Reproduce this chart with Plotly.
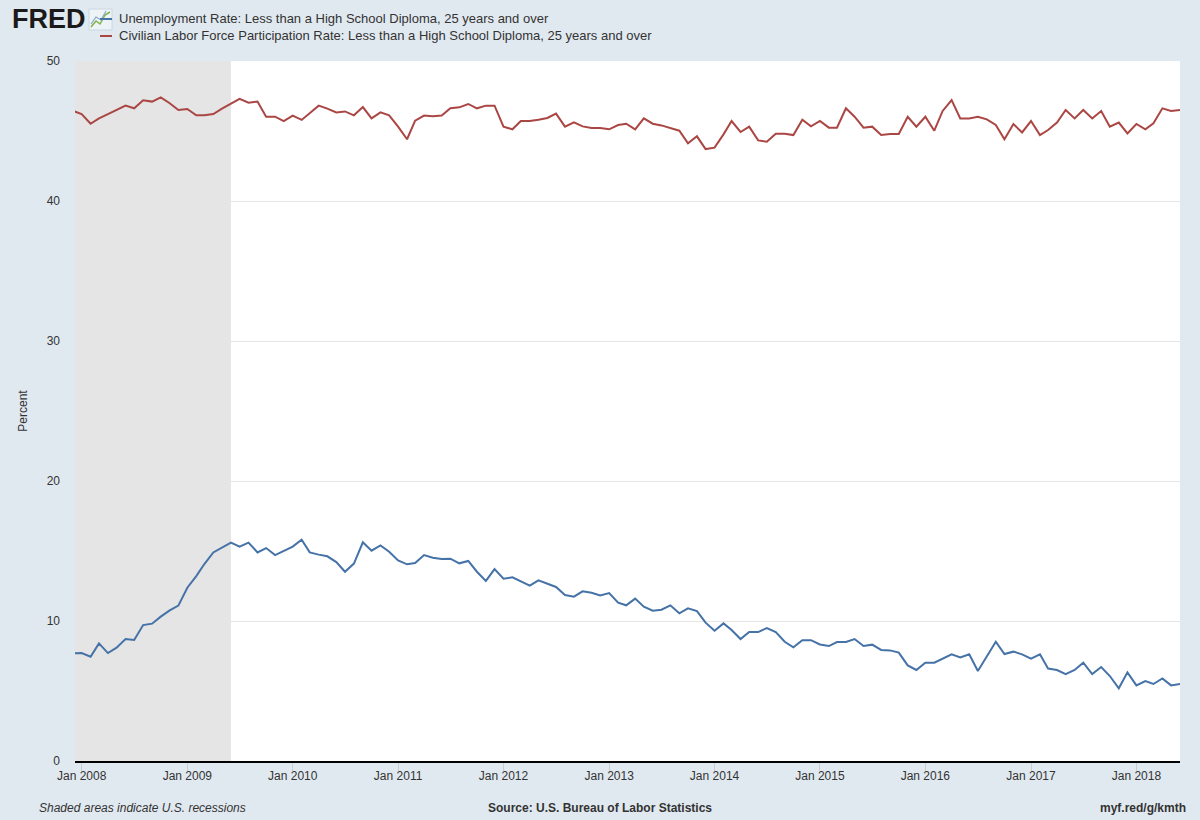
import pandas as pd
import plotly.graph_objects as go

# ---- data (monthly, Dec 2007 .. Jun 2018) ----
start_month = "2007-12-01"
unemployment = [
    7.7,
    7.71, 7.45, 8.40, 7.71, 8.10, 8.71, 8.64, 9.71, 9.81, 10.31, 10.76, 11.10,
    12.38, 13.21, 14.07, 14.90, 15.24, 15.60, 15.31, 15.60, 14.90, 15.21, 14.71, 14.98,
    15.31, 15.81, 14.90, 14.74, 14.62, 14.21, 13.52, 14.10, 15.62, 15.02, 15.40, 14.95,
    14.33, 14.05, 14.14, 14.71, 14.52, 14.43, 14.45, 14.12, 14.29, 13.52, 12.86, 13.71,
    13.02, 13.12, 12.81, 12.52, 12.90, 12.64, 12.43, 11.86, 11.74, 12.12, 12.02, 11.83,
    12.00, 11.31, 11.12, 11.60, 11.02, 10.74, 10.81, 11.12, 10.55, 10.90, 10.71, 9.88,
    9.31, 9.83, 9.36, 8.71, 9.21, 9.21, 9.50, 9.21, 8.52, 8.12, 8.62, 8.63,
    8.32, 8.21, 8.50, 8.50, 8.71, 8.21, 8.31, 7.93, 7.90, 7.74, 6.83, 6.50,
    7.02, 7.02, 7.33, 7.62, 7.40, 7.62, 6.43, 7.45, 8.52, 7.64, 7.81, 7.62,
    7.31, 7.62, 6.60, 6.50, 6.21, 6.50, 7.02, 6.21, 6.71, 6.07, 5.19, 6.33,
    5.40, 5.71, 5.50, 5.90, 5.40, 5.50,
]
participation = [
    46.45,
    46.21, 45.52, 45.90, 46.21, 46.50, 46.81, 46.62, 47.19, 47.10, 47.40, 46.98, 46.50,
    46.57, 46.12, 46.12, 46.21, 46.60, 46.98, 47.29, 47.02, 47.10, 46.02, 46.02, 45.71,
    46.10, 45.79, 46.26, 46.81, 46.60, 46.33, 46.40, 46.12, 46.71, 45.90, 46.33, 46.12,
    45.31, 44.41, 45.74, 46.10, 46.05, 46.10, 46.62, 46.69, 46.93, 46.62, 46.81, 46.81,
    45.31, 45.12, 45.71, 45.71, 45.81, 45.93, 46.24, 45.31, 45.62, 45.33, 45.21, 45.21,
    45.12, 45.43, 45.52, 45.12, 45.90, 45.52, 45.40, 45.21, 45.02, 44.12, 44.62, 43.71,
    43.81, 44.76, 45.71, 44.93, 45.31, 44.33, 44.24, 44.81, 44.81, 44.71, 45.81, 45.33,
    45.72, 45.24, 45.24, 46.62, 46.02, 45.24, 45.31, 44.71, 44.79, 44.79, 46.02, 45.31,
    46.02, 45.02, 46.43, 47.21, 45.90, 45.90, 46.02, 45.83, 45.43, 44.41, 45.50, 44.90,
    45.71, 44.71, 45.07, 45.60, 46.50, 45.90, 46.50, 45.90, 46.43, 45.31, 45.60, 44.83,
    45.50, 45.12, 45.55, 46.62, 46.43, 46.50,
]
dates = pd.date_range(start_month, periods=len(unemployment), freq="MS")

recession_start = "2007-12-01"
recession_end = "2009-06-01"

tick_years = list(range(2008, 2019))
tick_dates = [f"{y}-01-01" for y in tick_years]
tick_labels = [f"Jan {y}" for y in tick_years]

name_ur = "Unemployment Rate: Less than a High School Diploma, 25 years and over"
name_lf = "Civilian Labor Force Participation Rate: Less than a High School Diploma, 25 years and over"

BLUE = "#4572a7"
RED = "#aa4643"
FONT = "Liberation Sans Narrow, Arial Narrow, Liberation Sans, Arial, sans-serif"

fig = go.Figure()
fig.add_trace(go.Scatter(x=dates, y=unemployment, mode="lines", name=name_ur,
                         line=dict(color=BLUE, width=2), showlegend=False))
fig.add_trace(go.Scatter(x=dates, y=participation, mode="lines", name=name_lf,
                         line=dict(color=RED, width=2), showlegend=False))

fig.add_vrect(x0=recession_start, x1=recession_end, fillcolor="#e5e5e5",
              line_width=0, layer="below")

W, H = 1200, 820
L, R, T, B = 75, 20, 61, 59
pw, ph = W - L - R, H - T - B


def px(x):
    return (x - L) / pw


def py(y):
    return (H - B - y) / ph


fig.update_layout(
    width=W, height=H,
    margin=dict(l=L, r=R, t=T, b=B),
    paper_bgcolor="#e1e9f0",
    plot_bgcolor="#ffffff",
    font=dict(family=FONT, size=12, color="#333333"),
    xaxis=dict(
        type="date",
        range=["2007-12-09", "2018-06-01"],
        tickvals=tick_dates, ticktext=tick_labels,
        ticks="outside", ticklen=8, tickcolor="#cccccc",
        ticklabelstandoff=-5,
        showgrid=False, zeroline=False,
        showline=True, linecolor="#000000", linewidth=2,
        tickfont=dict(size=12, color="#333333"),
    ),
    yaxis=dict(
        range=[0, 50], tickvals=[0, 10, 20, 30, 40, 50],
        showgrid=True, gridcolor="#e6e6e6", gridwidth=1,
        zeroline=False, showline=False, ticks="",
        ticklabelstandoff=14,
        tickfont=dict(size=12, color="#333333"),
        title=dict(text="Percent", font=dict(size=12, color="#333333"), standoff=16),
    ),
)

# header: FRED logo
fig.add_annotation(x=px(10), y=py(19), xref="paper", yref="paper", text="<b>FRED</b>",
                   showarrow=False, xanchor="left", yanchor="middle",
                   font=dict(family="Liberation Sans, Arial, sans-serif", size=27, color="#1a1a1a"))
fig.add_shape(type="rect", xref="paper", yref="paper", x0=px(89), x1=px(112), y0=py(30), y1=py(9),
              line=dict(color="#c9d6e3", width=1), fillcolor="#eef3f8")
fig.add_shape(type="path", xref="paper", yref="paper",
              path=f"M {px(91)},{py(27)} L {px(96)},{py(21)} L {px(100)},{py(24)} L {px(105)},{py(15)} L {px(110)},{py(12)}",
              line=dict(color="#7fb24a", width=1.5))
fig.add_shape(type="path", xref="paper", yref="paper",
              path=f"M {px(91)},{py(24)} L {px(96)},{py(17)} L {px(101)},{py(20)} L {px(106)},{py(11)}",
              line=dict(color="#8aa9c6", width=1.2))

# legend (manual)
for yy, col, txt in [(19, BLUE, name_ur), (36, RED, name_lf)]:
    fig.add_shape(type="line", xref="paper", yref="paper", x0=px(100), x1=px(112),
                  y0=py(yy), y1=py(yy), line=dict(color=col, width=2))
    fig.add_annotation(x=px(117), y=py(yy), xref="paper", yref="paper", text=txt,
                       showarrow=False, xanchor="left", yanchor="middle",
                       font=dict(size=13, color="#333333"))

# footer
fig.add_annotation(x=px(37), y=py(808), xref="paper", yref="paper",
                   text="<i>Shaded areas indicate U.S. recessions</i>", showarrow=False,
                   xanchor="left", yanchor="middle", font=dict(size=12, color="#333333"))
fig.add_annotation(x=px(600), y=py(808), xref="paper", yref="paper",
                   text="<b>Source: U.S. Bureau of Labor Statistics</b>", showarrow=False,
                   xanchor="center", yanchor="middle", font=dict(size=12, color="#333333"))
fig.add_annotation(x=px(1188), y=py(808), xref="paper", yref="paper",
                   text="<b>myf.red/g/kmth</b>", showarrow=False,
                   xanchor="right", yanchor="middle", font=dict(size=12, color="#333333"))

fig.write_html("out.html", config={"displayModeBar": False},
               post_script="document.body.style.margin='0px';")
